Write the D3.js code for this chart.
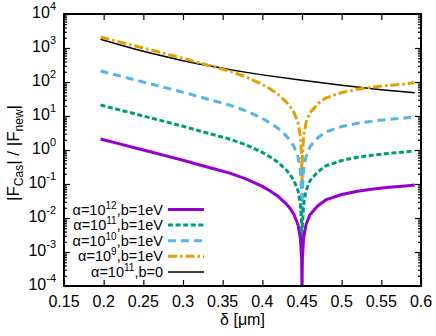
<!DOCTYPE html>
<html>
<head>
<meta charset="utf-8">
<script src="https://cdn.jsdelivr.net/npm/d3@7"></script>
<style>
  body { margin: 0; background: #fff; }
  text { font-family: "Liberation Sans", Arial, sans-serif; fill: #000; }
</style>
</head>
<body>
<script>
// chart size
const width = 436;
const height = 336;
const margin = {top: 14, right: 15, bottom: 50, left: 64};

// separation delta [um] for the four b=1eV curves
const delta = [0.196, 0.22, 0.24, 0.26, 0.28, 0.30, 0.32, 0.34, 0.36, 0.38, 0.40, 0.41, 0.42, 0.43, 0.435, 0.44,
               0.445, 0.448, 0.4495, 0.45, 0.4505, 0.452, 0.455, 0.46, 0.47, 0.48, 0.50, 0.52, 0.54, 0.56, 0.58, 0.592];

// |F_Cas| / |F_new|
const a12 = [2.1, 1.51, 1.15, 0.87, 0.66, 0.50, 0.37, 0.275, 0.205, 0.14, 0.085, 0.062, 0.043, 0.026, 0.019, 0.0125,
             0.0063, 0.0025, 0.00063, 0.00007, 0.00063, 0.0025, 0.0063, 0.0125, 0.023, 0.034, 0.049, 0.061, 0.071, 0.080, 0.088, 0.093];
const a11 = [21, 15.1, 11.5, 8.7, 6.6, 5.0, 3.7, 2.75, 2.05, 1.4, 0.85, 0.62, 0.43, 0.26, 0.19, 0.125,
             0.063, 0.025, 0.0063, 0.0007, 0.0063, 0.025, 0.063, 0.125, 0.23, 0.34, 0.49, 0.61, 0.71, 0.80, 0.88, 0.93];
const a10 = [210, 151, 115, 87, 66, 50, 37, 27.5, 20.5, 14, 8.5, 6.2, 4.3, 2.6, 1.9, 1.25,
             0.63, 0.25, 0.063, 0.007, 0.063, 0.25, 0.63, 1.25, 2.3, 3.4, 4.9, 6.1, 7.1, 8.0, 8.8, 9.5];
const a9 = [2100, 1510, 1150, 870, 660, 500, 370, 275, 205, 140, 85, 62, 43, 26, 19, 12.5,
            6.3, 2.5, 0.63, 0.07, 0.63, 2.5, 6.3, 12.5, 23, 34, 49, 61, 71, 80, 88, 96];

// alpha=1e11, b=0 curve
const deltaB = [0.196, 0.22, 0.24, 0.26, 0.28, 0.30, 0.32, 0.34, 0.36, 0.38, 0.40, 0.45, 0.50, 0.55, 0.592];
const a11b0 = [1800, 1240, 920, 700, 540, 420, 340, 280, 230, 192, 162, 112, 80, 59, 48];

// ticks
const xTicks = [0.15, 0.2, 0.25, 0.3, 0.35, 0.4, 0.45, 0.5, 0.55, 0.6];
const yExponents = [-4, -3, -2, -1, 0, 1, 2, 3, 4];

// series look + legend labels [before sup, sup, after sup]
const series = [
  {x: delta, y: a12, color: "#9400d3", width: 3, dash: null, label: ["α=10", "12", ",b=1eV"]},
  {x: delta, y: a11, color: "#009e73", width: 3, dash: "5,2.6", label: ["α=10", "11", ",b=1eV"]},
  {x: delta, y: a10, color: "#56b4e9", width: 3, dash: "8,5", label: ["α=10", "10", ",b=1eV"]},
  {x: delta, y: a9, color: "#e69f00", width: 3, dash: "9,3,2.5,3", label: ["α=10", "9", ",b=1eV"]},
  {x: deltaB, y: a11b0, color: "#000000", width: 1.5, dash: null, label: ["α=10", "11", ",b=0"]}
];

const x = d3.scaleLinear([0.15, 0.6], [margin.left, width - margin.right]);
const y = d3.scaleLog([1e-4, 1e4], [height - margin.bottom, margin.top]);

const svg = d3.select("body")
  .append("svg")
  .attr("width", width)
  .attr("height", height);

svg.append("clipPath").attr("id", "clip")
  .append("rect")
  .attr("x", margin.left).attr("y", margin.top)
  .attr("width", width - margin.left - margin.right)
  .attr("height", height - margin.top - margin.bottom);

// minor log ticks
const minor = [];
yExponents.slice(0, -1).forEach(e => {
  for (let k = 2; k <= 9; k++) minor.push(k * Math.pow(10, e));
});

// axes, ticks pointing inward
const axisStyle = g => {
  g.select(".domain").remove();
  g.selectAll("line").attr("stroke", "#000").attr("stroke-width", 1.2);
};
svg.append("g").attr("transform", `translate(0,${height - margin.bottom})`)
  .call(d3.axisBottom(x).tickValues(xTicks).tickSize(-6).tickFormat("")).call(axisStyle);
svg.append("g").attr("transform", `translate(0,${margin.top})`)
  .call(d3.axisTop(x).tickValues(xTicks).tickSize(-6).tickFormat("")).call(axisStyle);
svg.append("g").attr("transform", `translate(${margin.left},0)`)
  .call(d3.axisLeft(y).tickValues(yExponents.map(e => Math.pow(10, e))).tickSize(-6).tickFormat("")).call(axisStyle);
svg.append("g").attr("transform", `translate(${margin.left},0)`)
  .call(d3.axisLeft(y).tickValues(minor).tickSize(-3).tickFormat("")).call(axisStyle);
svg.append("g").attr("transform", `translate(${width - margin.right},0)`)
  .call(d3.axisRight(y).tickValues(yExponents.map(e => Math.pow(10, e))).tickSize(-6).tickFormat("")).call(axisStyle);
svg.append("g").attr("transform", `translate(${width - margin.right},0)`)
  .call(d3.axisRight(y).tickValues(minor).tickSize(-3).tickFormat("")).call(axisStyle);

// x tick labels
svg.append("g").selectAll("text")
  .data(xTicks)
  .join("text")
  .attr("x", d => x(d))
  .attr("y", height - margin.bottom + 21)
  .attr("text-anchor", "middle")
  .attr("font-size", 16)
  .text(d => String(d));

// y tick labels 10^n
const yLab = svg.append("g").selectAll("text")
  .data(yExponents)
  .join("text")
  .attr("x", margin.left - 8)
  .attr("y", d => y(Math.pow(10, d)) + 4)
  .attr("text-anchor", "end")
  .attr("font-size", 16);
yLab.append("tspan").text("10");
yLab.append("tspan").attr("font-size", 11).attr("dy", -8).text(d => String(d));

// curves
const line = d3.line().x(d => x(d[0])).y(d => y(d[1]));
const plot = svg.append("g").attr("clip-path", "url(#clip)");
series.slice().reverse().forEach(s => {
  plot.append("path")
    .datum(s.x.map((v, i) => [v, s.y[i]]))
    .attr("fill", "none")
    .attr("stroke", s.color)
    .attr("stroke-width", s.width)
    .attr("stroke-dasharray", s.dash)
    .attr("d", line);
});

// frame
svg.append("rect")
  .attr("x", margin.left).attr("y", margin.top)
  .attr("width", width - margin.left - margin.right)
  .attr("height", height - margin.top - margin.bottom)
  .attr("fill", "none").attr("stroke", "#000").attr("stroke-width", 2);

// legend
const legend = svg.append("g").selectAll("g")
  .data(series)
  .join("g")
  .attr("transform", (d, i) => `translate(0,${209.5 + i * 15.6})`);
legend.append("line")
  .attr("x1", 168).attr("x2", 204)
  .attr("stroke", d => d.color)
  .attr("stroke-width", d => d.width)
  .attr("stroke-dasharray", d => d.dash);
const lt = legend.append("text")
  .attr("x", 163).attr("y", 5)
  .attr("text-anchor", "end")
  .attr("font-size", 14.5);
lt.append("tspan").text(d => d.label[0]);
lt.append("tspan").attr("font-size", 10).attr("dy", -6).text(d => d.label[1]);
lt.append("tspan").attr("dy", 6).text(d => d.label[2]);

// axis titles
svg.append("text")
  .attr("x", (margin.left + width - margin.right) / 2)
  .attr("y", 325)
  .attr("text-anchor", "middle")
  .attr("font-size", 16)
  .text("δ [μm]");

const yt = svg.append("text")
  .attr("transform", "translate(19,153) rotate(-90)")
  .attr("text-anchor", "middle")
  .attr("font-size", 17);
yt.append("tspan").text("|F");
yt.append("tspan").attr("font-size", 12).attr("dy", 4).text("Cas");
yt.append("tspan").attr("dy", -4).text("| / |F");
yt.append("tspan").attr("font-size", 12).attr("dy", 4).text("new");
yt.append("tspan").attr("dy", -4).text("|");
</script>
</body>
</html>
